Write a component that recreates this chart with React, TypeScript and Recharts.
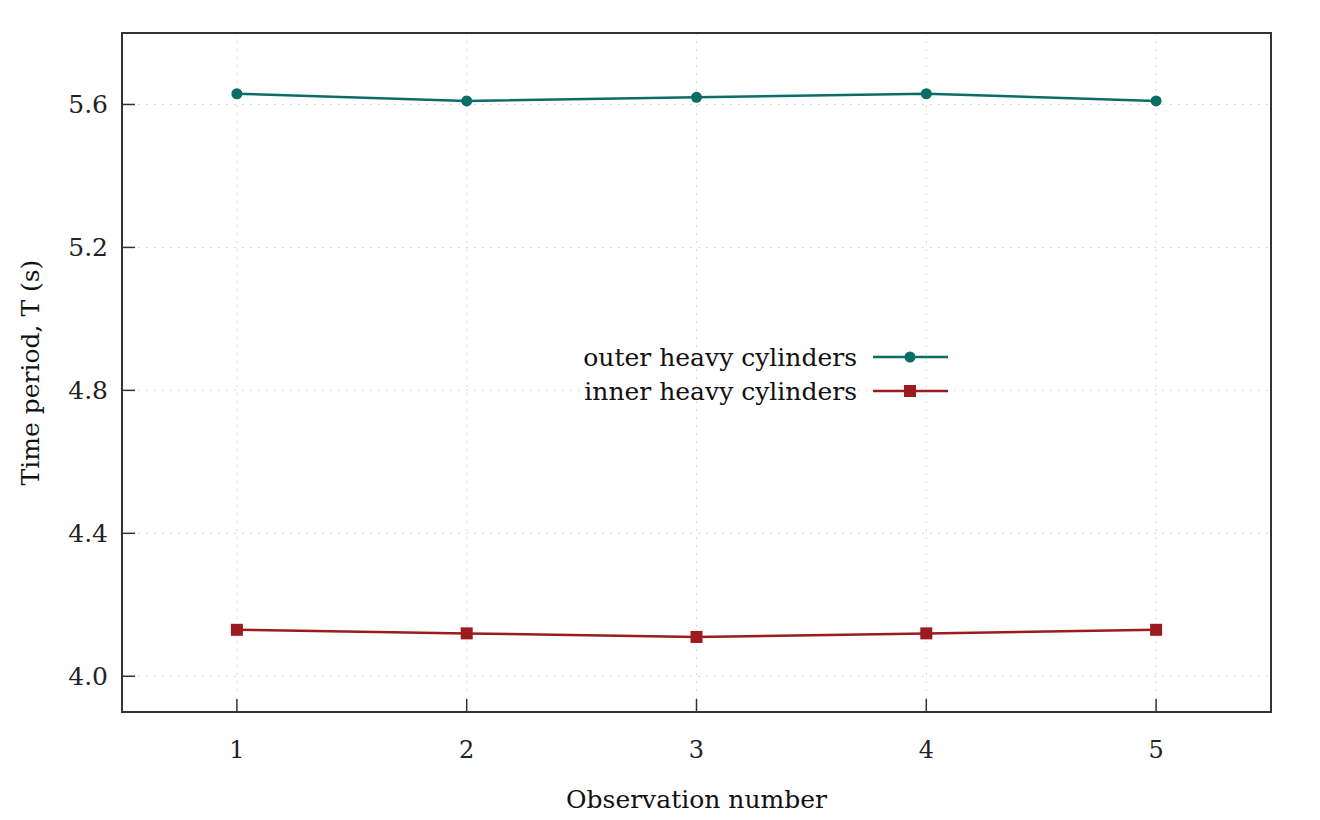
import React from "react";
import {
  LineChart,
  Line,
  XAxis,
  YAxis,
  CartesianGrid,
  Legend,
  ReferenceArea,
} from "recharts";

const observations = [1, 2, 3, 4, 5];
const outerHeavy = [5.63, 5.61, 5.62, 5.63, 5.61];
const innerHeavy = [4.13, 4.12, 4.11, 4.12, 4.13];
const yTicks = [4.0, 4.4, 4.8, 5.2, 5.6];
const xTicks = [1, 2, 3, 4, 5];
const seriesNames = ["outer heavy cylinders", "inner heavy cylinders"];

const data = observations.map((o, i) => ({
  obs: o,
  outer: outerHeavy[i],
  inner: innerHeavy[i],
}));

const FONT = "'DejaVu Serif', serif";
const TEAL = "#0b6e66";
const RED = "#9b1b1e";
const AXIS = "#333333";

const Square = (props: any) => {
  const { cx, cy } = props;
  if (cx == null || cy == null) return null;
  return <rect x={cx - 6} y={cy - 6} width={12} height={12} fill={RED} />;
};

const YTick = (props: any) => {
  const { x, y, payload } = props;
  const axisX = x + 14;
  return (
    <g>
      <line x1={axisX} y1={y} x2={axisX + 13} y2={y} stroke={AXIS} strokeWidth={1.5} />
      <text x={x} y={y} dy="0.35em" textAnchor="end" fontFamily={FONT} fontSize={25} fill="#222">
        {Number(payload.value).toFixed(1)}
      </text>
    </g>
  );
};

const XTick = (props: any) => {
  const { x, y, payload } = props;
  const axisY = y - 28;
  return (
    <g>
      <line x1={x} y1={axisY} x2={x} y2={axisY - 13} stroke={AXIS} strokeWidth={1.5} />
      <text x={x} y={y} dy="0.75em" textAnchor="middle" fontFamily={FONT} fontSize={24} fill="#222">
        {payload.value}
      </text>
    </g>
  );
};

const LegendContent = () => {
  const colors = [TEAL, RED];
  return (
    <svg width={400} height={80} style={{ overflow: "visible", display: "block" }}>
      {seriesNames.map((n, i) => {
        const yy = 20 + i * 34;
        return (
          <g key={n}>
            <text x={285} y={yy} dy="0.35em" textAnchor="end" fontFamily={FONT} fontSize={25} fill="#111">
              {n}
            </text>
            <line x1={301} y1={yy} x2={376} y2={yy} stroke={colors[i]} strokeWidth={2.5} />
            {i === 0 ? (
              <circle cx={338} cy={yy} r={5.5} fill={TEAL} />
            ) : (
              <rect x={332} y={yy - 6} width={12} height={12} fill={RED} />
            )}
          </g>
        );
      })}
    </svg>
  );
};

export default function App() {
  return (
    <div style={{ position: "absolute", left: 0, top: 0, width: 1320, height: 820, background: "#fff" }}>
      <LineChart
        width={1320}
        height={820}
        data={data}
        margin={{ top: 33, right: 49, bottom: 0, left: 0 }}
      >
        <CartesianGrid stroke="#d8d8d8" strokeDasharray="2 6" strokeWidth={1} />
        <XAxis
          dataKey="obs"
          type="number"
          domain={[0.5, 5.5]}
          ticks={xTicks}
          height={108}
          tickLine={false}
          tickSize={0}
          tickMargin={28}
          tick={<XTick />}
          axisLine={{ stroke: AXIS, strokeWidth: 2 }}
          label={{
            value: "Observation number",
            position: "insideBottom",
            offset: 12,
            fontFamily: FONT,
            fontSize: 25,
            fill: "#111",
          }}
        />
        <YAxis
          type="number"
          domain={[3.9, 5.8]}
          ticks={yTicks}
          width={122}
          tickLine={false}
          tickSize={0}
          tickMargin={14}
          tick={<YTick />}
          axisLine={{ stroke: AXIS, strokeWidth: 2 }}
          allowDataOverflow
          label={{
            value: "Time period, T (s)",
            angle: -90,
            position: "insideLeft",
            offset: 30,
            style: { textAnchor: "middle" },
            fontFamily: FONT,
            fontSize: 25,
            fill: "#111",
          }}
        />
        <ReferenceArea
          x1={0.5}
          x2={5.5}
          y1={3.9}
          y2={5.8}
          fill="none"
          fillOpacity={0}
          stroke={AXIS}
          strokeWidth={2}
          ifOverflow="visible"
        />
        <Line
          type="linear"
          dataKey="outer"
          name={seriesNames[0]}
          stroke={TEAL}
          strokeWidth={2.5}
          dot={{ r: 5.5, fill: TEAL, stroke: TEAL, strokeWidth: 0 }}
          isAnimationActive={false}
        />
        <Line
          type="linear"
          dataKey="inner"
          name={seriesNames[1]}
          stroke={RED}
          strokeWidth={2.5}
          dot={<Square />}
          isAnimationActive={false}
        />
        <Legend
          content={<LegendContent />}
          wrapperStyle={{ position: "absolute", left: 572, top: 337, width: 400, height: 0, overflow: "visible" }}
        />
      </LineChart>
    </div>
  );
}
